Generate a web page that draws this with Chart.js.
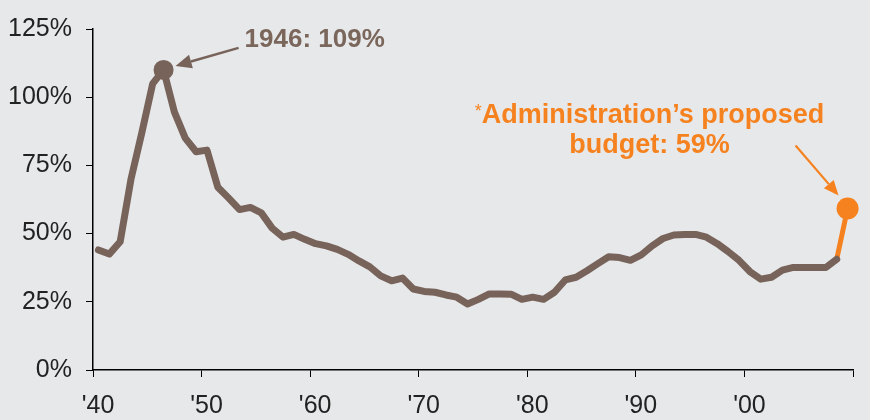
<!DOCTYPE html>
<html>
<head>
<meta charset="utf-8">
<script src="https://cdn.jsdelivr.net/npm/chart.js@4.4.1/dist/chart.umd.min.js"></script>
<style>
  html, body { margin: 0; padding: 0; background: #e7e8ea; }
  canvas { display: block; }
</style>
</head>
<body>
<canvas id="c" width="870" height="420"></canvas>
<script>
// ---- Data ----
const years = [
  1940,1941,1942,1943,1944,1945,1946,1947,1948,1949,
  1950,1951,1952,1953,1954,1955,1956,1957,1958,1959,
  1960,1961,1962,1963,1964,1965,1966,1967,1968,1969,
  1970,1971,1972,1973,1974,1975,1976,1977,1978,1979,
  1980,1981,1982,1983,1984,1985,1986,1987,1988,1989,
  1990,1991,1992,1993,1994,1995,1996,1997,1998,1999,
  2000,2001,2002,2003,2004,2005,2006,2007,2008
];
const debtPct = [
  44.0,42.5,47.0,70.0,87.0,105.0,110.0,94.5,85.0,80.0,
  80.6,67.0,63.0,58.8,59.6,57.6,52.0,48.7,49.7,47.9,
  46.3,45.5,44.2,42.4,40.0,37.8,34.5,32.7,33.7,29.7,
  28.8,28.5,27.5,26.7,24.2,25.9,27.9,27.9,27.8,25.9,
  26.7,25.9,28.5,33.0,34.0,36.4,39.0,41.5,41.2,40.2,
  42.2,45.5,48.2,49.5,49.7,49.7,48.7,46.3,43.4,40.2,
  36.1,33.3,34.0,36.6,37.6,37.6,37.6,37.6,40.6
];
const proposedYears = [2008, 2009];
const proposedPct = [40.6, 59.2];
const peakYear = 1946;
const xTickValues = [1939.5,1949.5,1959.5,1969.5,1979.5,1989.5,1999.5,2009.5];
const xTickLabels = ["'40","'50","'60","'70","'80","'90","'00",""];
const yTickValues = [0,25,50,75,100,125];
const peakLabel = "1946: 109%";
const proposedLabel1 = "Administration\u2019s proposed";
const proposedLabel2 = "budget: 59%";

// ---- Styles ----
const BROWN = '#77635a';
const BROWN_TEXT = '#7a665b';
const ORANGE = '#f5821f';
const BG = '#e7e8ea';
const FONT = '"Liberation Sans", Arial, sans-serif';

const brownData = years.map((y, i) => ({ x: y, y: debtPct[i] }));
const orangeData = proposedYears.map((y, i) => ({ x: y, y: proposedPct[i] }));
const peakIndex = years.indexOf(peakYear);

function arrow(ctx, x1, y1, x2, y2, color, lw, headLen, headHalf) {
  const ang = Math.atan2(y2 - y1, x2 - x1);
  const bx = x2 - headLen * Math.cos(ang), by = y2 - headLen * Math.sin(ang);
  ctx.save();
  ctx.strokeStyle = color; ctx.fillStyle = color; ctx.lineWidth = lw;
  ctx.beginPath(); ctx.moveTo(x1, y1); ctx.lineTo(bx, by); ctx.stroke();
  ctx.beginPath();
  ctx.moveTo(x2, y2);
  ctx.lineTo(bx + headHalf * Math.sin(ang), by - headHalf * Math.cos(ang));
  ctx.lineTo(bx - headHalf * Math.sin(ang), by + headHalf * Math.cos(ang));
  ctx.closePath(); ctx.fill();
  ctx.restore();
}

const bgPlugin = {
  id: 'bg',
  beforeDraw(chart) {
    const ctx = chart.ctx;
    ctx.save(); ctx.fillStyle = BG; ctx.fillRect(0, 0, chart.width, chart.height); ctx.restore();
  }
};

const annPlugin = {
  id: 'ann',
  afterDatasetsDraw(chart) {
    const ctx = chart.ctx, xs = chart.scales.x, ys = chart.scales.y;
    // Peak annotation
    const px = xs.getPixelForValue(peakYear), py = ys.getPixelForValue(debtPct[peakIndex]);
    arrow(ctx, px + 75, py - 22, px + 12, py - 4, BROWN, 2.5, 16, 7);
    ctx.save();
    ctx.fillStyle = BROWN_TEXT;
    ctx.font = 'bold 26px ' + FONT;
    ctx.textAlign = 'left'; ctx.textBaseline = 'alphabetic';
    ctx.fillText(peakLabel, px + 81, py - 23);
    ctx.restore();
    // Proposed annotation
    const last = proposedYears.length - 1;
    const ox = xs.getPixelForValue(proposedYears[last]), oy = ys.getPixelForValue(proposedPct[last]);
    arrow(ctx, ox - 52, oy - 63, ox - 9, oy - 13, ORANGE, 2.2, 15, 6.5);
    ctx.save();
    ctx.fillStyle = ORANGE;
    ctx.textBaseline = 'alphabetic';
    const cx = ox - 198;
    ctx.font = 'bold 27px ' + FONT;
    const w1 = ctx.measureText(proposedLabel1).width;
    ctx.font = '18px ' + FONT;
    const wa = ctx.measureText('*').width;
    const startX = cx - (w1 + wa) / 2;
    ctx.textAlign = 'left';
    ctx.fillText('*', startX, oy - 92);
    ctx.font = 'bold 27px ' + FONT;
    ctx.fillText(proposedLabel1, startX + wa, oy - 86);
    ctx.textAlign = 'center';
    ctx.fillText(proposedLabel2, cx, oy - 56);
    ctx.restore();
  }
};

new Chart(document.getElementById('c'), {
  type: 'line',
  data: {
    datasets: [
      {
        data: brownData,
        borderColor: BROWN,
        backgroundColor: BROWN,
        borderWidth: 7,
        borderJoinStyle: 'round',
        borderCapStyle: 'round',
        tension: 0,
        pointRadius: c => (c.dataIndex === peakIndex ? 10 : 0),
        pointBorderWidth: 0,
        pointBackgroundColor: BROWN,
        clip: false
      },
      {
        data: orangeData,
        borderColor: ORANGE,
        backgroundColor: ORANGE,
        borderWidth: 5,
        borderCapStyle: 'round',
        tension: 0,
        pointRadius: c => (c.dataIndex === proposedYears.length - 1 ? 11 : 0),
        pointBorderWidth: 0,
        pointBackgroundColor: ORANGE,
        clip: false
      }
    ]
  },
  options: {
    responsive: false,
    animation: false,
    layout: { autoPadding: false, padding: { top: 27, right: 17, left: 0, bottom: 0 } },
    plugins: { legend: { display: false }, tooltip: { enabled: false } },
    scales: {
      x: {
        type: 'linear',
        min: xTickValues[0],
        max: xTickValues[xTickValues.length - 1],
        afterBuildTicks: s => { s.ticks = xTickValues.map(v => ({ value: v })); },
        afterFit: s => { s.height = 50; },
        grid: { display: true, drawOnChartArea: false, drawTicks: true, tickLength: 7, color: '#000', lineWidth: 1 },
        border: { display: true, color: '#000', width: 1.5 },
        ticks: {
          callback: (v, i) => xTickLabels[i],
          color: '#222',
          font: { family: FONT, size: 25 },
          padding: 14,
          labelOffset: 5,
          maxRotation: 0,
          autoSkip: false
        }
      },
      y: {
        min: 0,
        max: 125,
        afterBuildTicks: s => { s.ticks = yTickValues.map(v => ({ value: v })); },
        afterFit: s => { s.width = 93; },
        grid: { display: true, drawOnChartArea: false, drawTicks: true, tickLength: 7, color: '#000', lineWidth: 1 },
        border: { display: true, color: '#000', width: 1.5 },
        ticks: {
          callback: v => v + '%',
          color: '#222',
          font: { family: FONT, size: 25 },
          padding: 14
        }
      }
    }
  },
  plugins: [bgPlugin, annPlugin]
});
</script>
</body>
</html>
